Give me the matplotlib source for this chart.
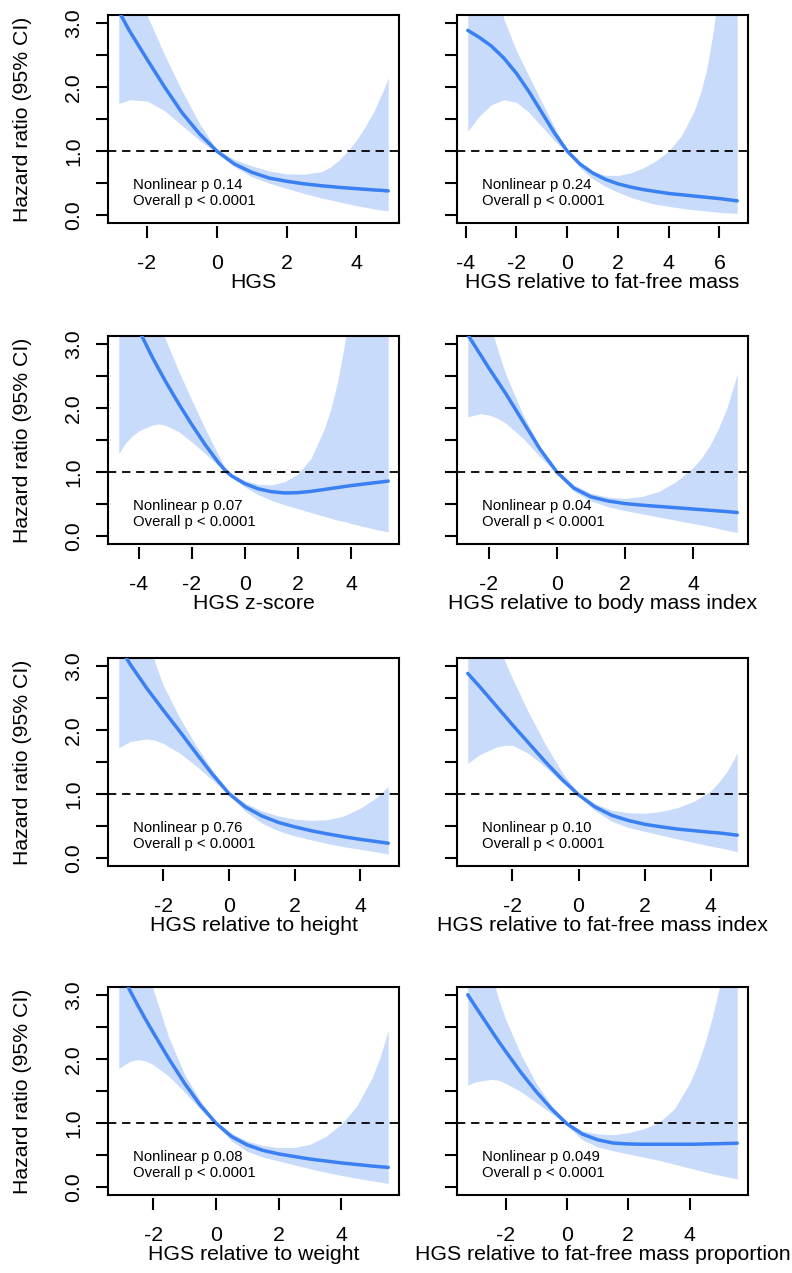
import matplotlib
matplotlib.use('Agg')
import matplotlib.pyplot as plt
import matplotlib.transforms as mtransforms
from matplotlib.lines import Line2D
import numpy as np

plt.rcParams['font.family'] = ['Liberation Sans', 'DejaVu Sans']

# ---------------- data ----------------
# Panel 1: HGS
p1_x  = [-2.81, -2.5, -2.0, -1.5, -1.0, -0.5, 0.0, 0.5, 1.0, 1.5, 2.0, 2.5, 3.0, 3.25, 3.5, 3.75, 4.0, 4.25, 4.5, 4.75, 4.91]
p1_hr = [3.18, 2.87, 2.43, 2.00, 1.60, 1.27, 1.00, 0.80, 0.67, 0.58, 0.53, 0.49, 0.46, 0.448, 0.435, 0.425, 0.415, 0.405, 0.395, 0.387, 0.38]
p1_lo = [1.74, 1.80, 1.78, 1.63, 1.40, 1.17, 0.97, 0.76, 0.60, 0.50, 0.42, 0.34, 0.27, 0.24, 0.21, 0.18, 0.15, 0.125, 0.10, 0.08, 0.07]
p1_hi = [5.00, 3.90, 3.12, 2.50, 1.94, 1.43, 1.02, 0.87, 0.77, 0.69, 0.645, 0.64, 0.68, 0.75, 0.86, 1.00, 1.17, 1.38, 1.62, 1.92, 2.14]

# Panel 2: HGS relative to fat-free mass
p2_x  = [-3.92, -3.5, -3.0, -2.5, -2.0, -1.5, -1.0, -0.5, 0.0, 0.5, 1.0, 1.5, 2.0, 2.5, 3.0, 3.5, 4.0, 4.5, 5.0, 5.25, 5.5, 5.75, 6.0, 6.7]
p2_hr = [2.88, 2.78, 2.64, 2.45, 2.21, 1.92, 1.60, 1.28, 1.00, 0.80, 0.66, 0.56, 0.49, 0.44, 0.40, 0.37, 0.34, 0.32, 0.30, 0.29, 0.28, 0.27, 0.26, 0.225]
p2_lo = [1.31, 1.53, 1.72, 1.80, 1.76, 1.60, 1.38, 1.16, 0.98, 0.74, 0.57, 0.45, 0.36, 0.28, 0.22, 0.17, 0.14, 0.11, 0.085, 0.075, 0.065, 0.055, 0.045, 0.03]
p2_hi = [9.00, 6.00, 3.90, 3.06, 2.56, 2.16, 1.76, 1.37, 1.01, 0.80, 0.68, 0.625, 0.62, 0.66, 0.74, 0.85, 1.00, 1.24, 1.62, 1.90, 2.28, 2.85, 3.60, 6.50]

# Panel 3: HGS z-score
p3_x  = [-4.75, -4.5, -4.25, -4.0, -3.5, -3.25, -3.0, -2.5, -2.0, -1.5, -1.0, -0.75, -0.5, 0.0, 0.5, 1.0, 1.5, 2.0, 2.5, 3.0, 3.25, 3.5, 3.75, 4.0, 4.5, 5.0, 5.4]
p3_hr = [4.05, 3.75, 3.47, 3.22, 2.80, 2.61, 2.42, 2.07, 1.74, 1.43, 1.15, 1.03, 0.94, 0.82, 0.74, 0.695, 0.675, 0.68, 0.70, 0.73, 0.745, 0.76, 0.775, 0.79, 0.815, 0.84, 0.86]
p3_lo = [1.29, 1.45, 1.56, 1.64, 1.73, 1.75, 1.73, 1.63, 1.47, 1.29, 1.10, 1.01, 0.92, 0.77, 0.65, 0.56, 0.49, 0.43, 0.37, 0.31, 0.28, 0.25, 0.23, 0.20, 0.15, 0.10, 0.07]
p3_hi = [10.0, 8.00, 6.30, 5.00, 3.70, 3.35, 3.08, 2.58, 2.12, 1.68, 1.27, 1.07, 0.97, 0.87, 0.81, 0.80, 0.85, 0.97, 1.22, 1.68, 2.00, 2.42, 2.98, 3.70, 5.50, 8.00, 10.0]

# Panel 4: HGS relative to body mass index
p4_x  = [-2.62, -2.25, -2.0, -1.75, -1.5, -1.0, -0.5, 0.0, 0.5, 1.0, 1.5, 2.0, 2.5, 3.0, 3.5, 4.0, 4.25, 4.5, 4.75, 5.0, 5.3]
p4_hr = [3.14, 2.83, 2.62, 2.42, 2.22, 1.79, 1.36, 1.00, 0.75, 0.615, 0.55, 0.51, 0.485, 0.465, 0.445, 0.425, 0.415, 0.405, 0.395, 0.385, 0.37]
p4_lo = [1.86, 1.91, 1.89, 1.84, 1.76, 1.53, 1.24, 0.98, 0.70, 0.55, 0.46, 0.40, 0.35, 0.30, 0.25, 0.20, 0.175, 0.15, 0.12, 0.09, 0.06]
p4_hi = [5.00, 3.90, 3.38, 2.92, 2.52, 1.90, 1.40, 1.02, 0.80, 0.67, 0.61, 0.59, 0.62, 0.70, 0.85, 1.07, 1.22, 1.42, 1.68, 2.00, 2.53]

# Panel 5: HGS relative to height
p5_x  = [-3.35, -3.0, -2.5, -2.25, -2.0, -1.5, -1.0, -0.5, 0.0, 0.5, 1.0, 1.5, 2.0, 2.5, 3.0, 3.5, 4.0, 4.5, 4.85]
p5_hr = [3.32, 3.02, 2.65, 2.48, 2.31, 1.98, 1.64, 1.31, 1.01, 0.80, 0.66, 0.56, 0.49, 0.43, 0.38, 0.335, 0.295, 0.26, 0.235]
p5_lo = [1.72, 1.82, 1.86, 1.84, 1.79, 1.64, 1.44, 1.22, 0.99, 0.73, 0.55, 0.43, 0.35, 0.29, 0.23, 0.18, 0.14, 0.10, 0.065]
p5_hi = [7.00, 5.20, 3.60, 3.05, 2.70, 2.19, 1.76, 1.37, 1.03, 0.86, 0.74, 0.66, 0.61, 0.59, 0.60, 0.66, 0.78, 0.95, 1.12]

# Panel 6: HGS relative to fat-free mass index
p6_x  = [-3.35, -3.0, -2.5, -2.25, -2.0, -1.5, -1.0, -0.5, 0.0, 0.5, 1.0, 1.5, 2.0, 2.5, 3.0, 3.5, 4.0, 4.25, 4.5, 4.8]
p6_hr = [2.88, 2.68, 2.38, 2.23, 2.08, 1.79, 1.50, 1.23, 0.99, 0.80, 0.67, 0.59, 0.53, 0.49, 0.455, 0.43, 0.405, 0.395, 0.38, 0.36]
p6_lo = [1.48, 1.61, 1.73, 1.76, 1.76, 1.63, 1.42, 1.18, 0.97, 0.74, 0.58, 0.48, 0.42, 0.36, 0.30, 0.245, 0.19, 0.165, 0.14, 0.10]
p6_hi = [5.80, 4.50, 3.50, 3.10, 2.80, 2.26, 1.77, 1.34, 1.01, 0.85, 0.75, 0.71, 0.70, 0.73, 0.79, 0.89, 1.05, 1.19, 1.36, 1.64]

# Panel 7: HGS relative to weight
p7_x  = [-3.1, -2.75, -2.5, -2.25, -2.0, -1.5, -1.0, -0.5, 0.0, 0.5, 1.0, 1.5, 2.0, 2.5, 3.0, 3.5, 4.0, 4.5, 5.0, 5.25, 5.5]
p7_hr = [3.42, 3.07, 2.84, 2.62, 2.41, 2.00, 1.62, 1.28, 1.00, 0.79, 0.66, 0.575, 0.52, 0.48, 0.44, 0.41, 0.38, 0.355, 0.33, 0.32, 0.31]
p7_lo = [1.85, 1.96, 1.99, 1.97, 1.91, 1.73, 1.48, 1.22, 0.98, 0.72, 0.56, 0.47, 0.41, 0.35, 0.29, 0.235, 0.185, 0.14, 0.10, 0.08, 0.06]
p7_hi = [7.00, 5.00, 4.10, 3.55, 3.08, 2.33, 1.76, 1.35, 1.02, 0.84, 0.72, 0.65, 0.62, 0.62, 0.67, 0.79, 0.98, 1.27, 1.72, 2.04, 2.45]

# Panel 8: HGS relative to fat-free mass proportion
p8_x  = [-3.23, -3.0, -2.5, -2.25, -2.0, -1.5, -1.0, -0.5, 0.0, 0.5, 1.0, 1.5, 2.0, 2.5, 3.0, 3.5, 4.0, 4.25, 4.5, 4.75, 5.0, 5.25, 5.55]
p8_hr = [3.00, 2.83, 2.47, 2.29, 2.12, 1.79, 1.49, 1.22, 0.99, 0.83, 0.74, 0.69, 0.675, 0.67, 0.67, 0.67, 0.67, 0.672, 0.675, 0.678, 0.68, 0.683, 0.687]
p8_lo = [1.59, 1.64, 1.68, 1.67, 1.62, 1.49, 1.32, 1.15, 0.96, 0.74, 0.63, 0.57, 0.52, 0.47, 0.42, 0.36, 0.30, 0.27, 0.24, 0.21, 0.185, 0.16, 0.13]
p8_hi = [7.50, 5.50, 3.40, 2.97, 2.62, 2.07, 1.62, 1.27, 1.01, 0.88, 0.83, 0.82, 0.85, 0.91, 1.01, 1.22, 1.62, 1.90, 2.25, 2.67, 3.18, 3.80, 4.60]

x_labels = ["HGS", "HGS relative to fat-free mass", "HGS z-score",
            "HGS relative to body mass index", "HGS relative to height",
            "HGS relative to fat-free mass index", "HGS relative to weight",
            "HGS relative to fat-free mass proportion"]
x_ticks = [[-2, 0, 2, 4], [-4, -2, 0, 2, 4, 6], [-4, -2, 0, 2, 4], [-2, 0, 2, 4],
           [-2, 0, 2, 4], [-2, 0, 2, 4], [-2, 0, 2, 4], [-2, 0, 2, 4]]
nonlinear_p = ["0.14", "0.24", "0.07", "0.04", "0.76", "0.10", "0.08", "0.049"]
overall_p = ["< 0.0001"] * 8
y_ticks = [0.0, 0.5, 1.0, 1.5, 2.0, 2.5, 3.0]
y_ticklabels = ["0.0", "", "1.0", "", "2.0", "", "3.0"]
y_label = "Hazard ratio (95% CI)"

series = [(p1_x, p1_hr, p1_lo, p1_hi), (p2_x, p2_hr, p2_lo, p2_hi),
          (p3_x, p3_hr, p3_lo, p3_hi), (p4_x, p4_hr, p4_lo, p4_hi),
          (p5_x, p5_hr, p5_lo, p5_hi), (p6_x, p6_hr, p6_lo, p6_hi),
          (p7_x, p7_hr, p7_lo, p7_hi), (p8_x, p8_hr, p8_lo, p8_hi)]

# ---------------- layout ----------------
W, H = 792, 1273
fig = plt.figure(figsize=(W / 100, H / 100), dpi=100)
col_left = [108, 457]
row_top = [15, 336, 658, 987]
bw, bh = 291, 208
LINE = '#3a80f2'
BAND = '#c8dbfa'
FS = 15.3

for i, (x, hr, lo, hi) in enumerate(series):
    r, c = divmod(i, 2)
    ax = fig.add_axes([col_left[c] / W, 1 - (row_top[r] + bh) / H, bw / W, bh / H])
    x = np.asarray(x, dtype=float)
    pad = 0.04 * (x[-1] - x[0])
    ax.set_xlim(x[0] - pad, x[-1] + pad)
    ax.set_ylim(-0.12, 3.12)

    ax.fill_between(x, lo, hi, color=BAND, lw=0, zorder=1)
    ax.plot(x, hr, color=LINE, lw=2.5, solid_capstyle='round',
            solid_joinstyle='round', zorder=3)
    ax.axhline(1.0, color='black', lw=1.3, dashes=(4.6, 3.2), zorder=4)

    for s in ['left', 'top', 'right']:
        ax.spines[s].set_linewidth(1.5)
    ax.spines['bottom'].set_visible(False)
    ax.spines['bottom'].set_position(('outward', 2.5))
    ax.add_line(Line2D([0, 1], [0, 0], transform=ax.transAxes, color='black',
                       lw=1.5, clip_on=False, zorder=5))

    ax.set_xticks(x_ticks[i])
    ax.set_xticklabels([str(t) for t in x_ticks[i]], fontsize=FS)
    ax.set_yticks(y_ticks)
    if c == 0:
        ax.set_yticklabels(y_ticklabels, fontsize=FS)
        for t in ax.get_yticklabels():
            t.set_rotation(90)
            t.set_va('center')
        ax.set_ylabel(y_label, fontsize=FS, labelpad=23)
    else:
        ax.set_yticklabels([])
    ax.tick_params(axis='x', direction='out', length=8.5, width=1.5, pad=11)
    ax.tick_params(axis='y', direction='out', length=8.5, width=1.5, pad=9.5)
    ax.set_xlabel(x_labels[i], fontsize=FS, labelpad=0)

    trans = mtransforms.blended_transform_factory(ax.transAxes, ax.transData)
    ax.text(0.085, 0.47, f"Nonlinear p {nonlinear_p[i]}", transform=trans,
            fontsize=10.7, va='center', ha='left', zorder=6)
    ax.text(0.085, 0.22, f"Overall p {overall_p[i]}", transform=trans,
            fontsize=10.7, va='center', ha='left', zorder=6)

fig.savefig('out.png', dpi=100, facecolor='white')
